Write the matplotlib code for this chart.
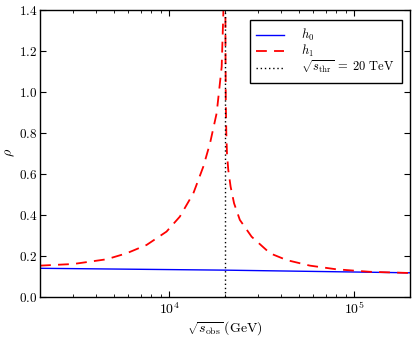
import numpy as np
import matplotlib
matplotlib.use("Agg")
import matplotlib.pyplot as plt
from matplotlib.ticker import FuncFormatter, LogLocator, FixedLocator

plt.rcParams['mathtext.fontset'] = 'cm'
plt.rcParams['font.family'] = ['cmr10', 'DejaVu Serif']
plt.rcParams['axes.formatter.use_mathtext'] = True

# h0 data
x_h0 = [2000, 20000, 200000]
h0 = [0.140, 0.131, 0.118]

# h1 data (left and right of threshold)
x_h1 = [2000, 3030, 4580, 5870, 7540, 9660, 11400, 13490, 15270, 16600, 18030,
        19190, 19590, 19850, 20075, 20125, 20200, 20330, 20500, 20830, 21450,
        22390, 24060, 27860, 35060, 43150, 57540, 80200, 121000, 200000]
h1 = [0.153, 0.161, 0.184, 0.213, 0.254, 0.319, 0.392, 0.506, 0.636, 0.750, 0.897,
      1.123, 1.384, 1.600, 1.600, 1.200, 0.950, 0.800, 0.700, 0.620, 0.538,
      0.457, 0.376, 0.294, 0.213, 0.180, 0.153, 0.135, 0.123, 0.117]

s_thr = 20000
y_ticks = [0.0, 0.2, 0.4, 0.6, 0.8, 1.0, 1.2, 1.4]

fig = plt.figure(figsize=(4.16, 3.38), dpi=100)
ax = fig.add_axes([40/416, 41/338, 370/416, 287/338])

ax.plot(x_h0, h0, color=(0, 0, 1), lw=1.0, label=r'$h_0$')
ax.plot(x_h1, h1, color=(1, 0, 0), lw=1.3, ls=(0, (6, 4)), label=r'$h_1$')
ax.axvline(s_thr, color='k', lw=1.0, ls=(0, (1, 2)),
           label=r'$\sqrt{s_{\rm thr}}\;=\;20\ {\rm TeV}$')

ax.set_xscale('log')
ax.set_xlim(2000, 200000)
ax.set_ylim(0, 1.4)
ax.yaxis.set_major_locator(FixedLocator(y_ticks))
ax.yaxis.set_major_formatter(FuncFormatter(lambda v, p: r'$%.1f$' % v))
ax.xaxis.set_major_locator(LogLocator(base=10))
ax.xaxis.set_major_formatter(FuncFormatter(lambda v, p: r'$10^{%d}$' % int(round(np.log10(v)))))

ax.tick_params(which='both', direction='in', top=True, right=True, labelsize=10)
ax.tick_params(which='major', length=4, width=0.8)
ax.tick_params(axis='x', which='major', pad=3)
ax.tick_params(axis='y', which='major', pad=2, labelsize=9.5)
ax.tick_params(which='minor', length=2, width=0.6)
for s in ax.spines.values():
    s.set_linewidth(1.0)

ax.set_xlabel(r'$\sqrt{s_{\rm obs}}\,({\rm GeV})$', fontsize=10, labelpad=1)
ax.set_ylabel(r'$\rho$', fontsize=10)
ax.yaxis.set_label_coords(-0.062, 0.503)

leg = ax.legend(loc='upper right', bbox_to_anchor=(0.978, 0.965), borderaxespad=0,
                fontsize=9, fancybox=False, framealpha=1, edgecolor='k',
                handlelength=2.2, handletextpad=1.4, labelspacing=0.0,
                borderpad=0.55)
leg.get_frame().set_linewidth(1.0)

fig.savefig('out.png', dpi=100, facecolor='white')
